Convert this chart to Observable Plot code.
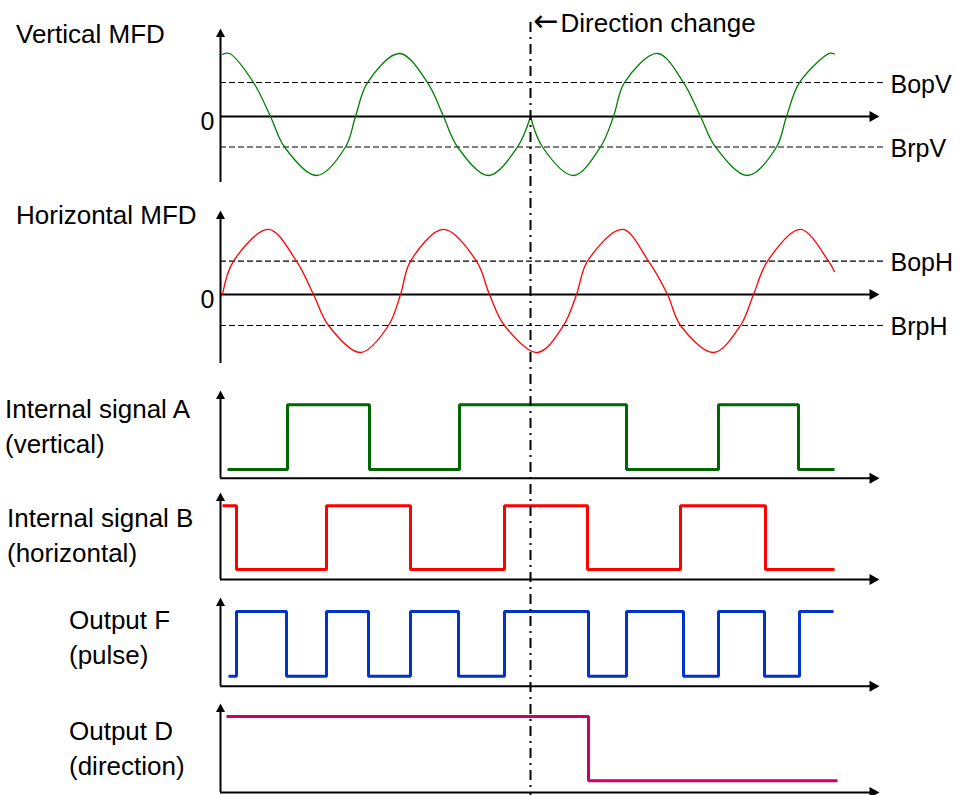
<!DOCTYPE html>
<html><head><meta charset="utf-8">
<script src="https://cdn.jsdelivr.net/npm/d3@7"></script>
<script src="https://cdn.jsdelivr.net/npm/@observablehq/plot@0.6"></script>
<style>
html,body{margin:0;padding:0;background:#fff;}
#chart{position:relative;width:960px;height:795px;overflow:hidden;font-family:"Liberation Sans",Arial,sans-serif;}
#chart svg{position:absolute;left:0;}
.lbl{position:absolute;font-size:26px;line-height:26px;white-space:nowrap;color:#000;}
</style></head><body><div id="chart"></div>
<script>
// ---------------- data (time in arbitrary units) ----------------
const timeDomain = [0, 659];
const directionChangeT = [310];
const directionArrow = "\u2190";
const directionLabel = "Direction change";
const zeroLabel = "0";

// Vertical magnetic flux density (normalised)
const vertTime  = [2, 9, 33, 50, 64, 96, 125, 135, 147, 179, 207, 223, 237, 268, 297, 310,
                   310, 322, 353, 380, 393, 404, 437, 463, 480, 495, 527, 556, 566, 579, 609, 614];
const vertField = [1.02, 1.033, 0.557, 0, -0.5, -0.967, -0.5, 0, 0.557, 1.033, 0.557, 0, -0.5, -0.967, -0.5, 0,
                   0, -0.5, -0.967, -0.5, 0, 0.557, 1.033, 0.557, 0, -0.5, -0.967, -0.5, 0, 0.557, 1.033, 1.025];
const vertPhase = ["forward","forward","forward","forward","forward","forward","forward","forward",
                   "forward","forward","forward","forward","forward","forward","forward","forward",
                   "reverse","reverse","reverse","reverse","reverse","reverse","reverse","reverse",
                   "reverse","reverse","reverse","reverse","reverse","reverse","reverse","reverse"];

// Horizontal magnetic flux density (normalised)
const horizTime  = [2, 13, 48, 76, 93, 108, 140, 168, 180, 190, 223, 256, 269, 284, 317, 343, 356,
                    367, 402, 428, 447, 460, 493, 520, 533, 547, 580, 608, 614];
const horizField = [0, 0.546, 1.066, 0.546, 0, -0.508, -0.951, -0.508, 0, 0.546, 1.066, 0.546, 0, -0.508, -0.951, -0.508, 0,
                    0.546, 1.066, 0.546, 0, -0.508, -0.951, -0.508, 0, 0.546, 1.066, 0.546, 0.377];

const thresholdNamesV  = ["BopV", "BrpV"];
const thresholdValuesV = [0.557, -0.5];
const thresholdNamesH  = ["BopH", "BrpH"];
const thresholdValuesH = [0.546, -0.508];

// Digital signals: time of each level change and the level that follows
const sigATime  = [7, 67, 149, 239, 406, 498, 578, 614];
const sigALevel = [0, 1, 0, 1, 0, 1, 0, 0];
const sigBTime  = [2, 16, 106, 190, 284, 367, 460, 545, 614];
const sigBLevel = [1, 0, 1, 0, 1, 0, 1, 0, 0];
const outFTime  = [8, 16, 66, 106, 148, 190, 238, 284, 368, 406, 463, 498, 544, 579, 613];
const outFLevel = [0, 1, 0, 1, 0, 1, 0, 1, 0, 1, 0, 1, 0, 1, 1];
const outDTime  = [6, 368, 617];
const outDLevel = [1, 0, 0];

const panelLabels = [
  ["Vertical MFD"],
  ["Horizontal MFD"],
  ["Internal signal A", "(vertical)"],
  ["Internal signal B", "(horizontal)"],
  ["Output F", "(pulse)"],
  ["Output D", "(direction)"]
];

// ---------------- layout / style ----------------
const FONT = '"Liberation Sans", Arial, sans-serif';
const W = 960, ML = 220, MR = 81;
const chart = document.getElementById("chart");

const arrowUp = {draw(c) { c.moveTo(0, 0); c.lineTo(-4.5, 8.5); c.lineTo(4.5, 8.5); c.closePath(); }};
const arrowRight = {draw(c) { c.moveTo(0, 0); c.lineTo(-10, -5.5); c.lineTo(-10, 5.5); c.closePath(); }};

// page layout of each panel (svg top, height, local positions of axis tip, axis bottom)
const layout = [
  {top: 20,  height: 170, tip: 8,  bottom: 162, domain: [-1, 1], range: [157, 35], axisLocal: 96},
  {top: 200, height: 170, tip: 10, bottom: 163, domain: [-1, 1], range: [155, 33], axisLocal: 94},
  {top: 382, height: 100, tip: 8,  bottom: 95.7, domain: [0, 1], range: [87, 22.3], axisLocal: 95.7},
  {top: 484, height: 100, tip: 8,  bottom: 95,   domain: [0, 1], range: [85, 21.3], axisLocal: 95},
  {top: 589, height: 100, tip: 8,  bottom: 96.7, domain: [0, 1], range: [86.7, 22], axisLocal: 96.7},
  {top: 695, height: 100, tip: 8,  bottom: 97,   domain: [0, 1], range: [85.3, 21], axisLocal: 97}
];
const labelPos = [
  {left: 16, base: [43]},
  {left: 16, base: [224]},
  {left: 5,  base: [418, 453]},
  {left: 7,  base: [527, 562]},
  {left: 69, base: [629, 664]},
  {left: 69, base: [740, 775]}
];

function axisValue(cfg) {
  const [d0, d1] = cfg.domain, [r0, r1] = cfg.range;
  return d0 + (cfg.axisLocal - r0) / (r1 - r0) * (d1 - d0);
}

function axesMarks(av) {
  return [
    Plot.ruleX([0], {x: d => d, stroke: "#000", strokeWidth: 2, insetTop: 6}),
    Plot.dot([0], {x: d => d, frameAnchor: "top", symbol: arrowUp, fill: "#000", stroke: "none"}),
    Plot.ruleY([av], {y: d => d, stroke: "#000", strokeWidth: 2, insetRight: 8}),
    Plot.dot([av], {y: d => d, frameAnchor: "right", symbol: arrowRight, fill: "#000", stroke: "none"})
  ];
}

function panel(cfg, marks) {
  const svg = Plot.plot({
    width: W, height: cfg.height,
    marginLeft: ML, marginRight: MR, marginTop: cfg.tip, marginBottom: cfg.height - cfg.bottom,
    x: {domain: timeDomain, axis: null},
    y: {domain: cfg.domain, range: cfg.range, axis: null},
    style: {background: "transparent", overflow: "visible", fontFamily: FONT},
    marks
  });
  svg.style.top = cfg.top + "px";
  chart.append(svg);
}

function thresholdMarks(values, names) {
  return [
    Plot.ruleY(values, {y: d => d, stroke: "#000", strokeWidth: 1.2, strokeDasharray: "6,3", insetRight: -4}),
    Plot.text(values, {y: d => d, text: (d, i) => names[i], frameAnchor: "right", textAnchor: "start",
                       lineAnchor: "middle", dx: 11, dy: 2, fontSize: 25, fontFamily: FONT, fill: "#000"})
  ];
}
function zeroMark() {
  return Plot.text([0], {y: d => d, text: () => zeroLabel, frameAnchor: "left", textAnchor: "end",
                         lineAnchor: "middle", dx: -6, dy: 5, fontSize: 25, fontFamily: FONT, fill: "#000"});
}
function digital(times, levels, color) {
  const rows = times.map((t, i) => ({t, level: levels[i]}));
  return Plot.line(rows, {x: "t", y: "level", curve: "step-after", stroke: color, strokeWidth: 3,
                          strokeLinejoin: "miter", strokeLinecap: "butt"});
}

// Panel 1: vertical MFD
{
  const cfg = layout[0];
  const rows = vertTime.map((t, i) => ({t, b: vertField[i], phase: vertPhase[i]}));
  panel(cfg, [
    ...thresholdMarks(thresholdValuesV, thresholdNamesV),
    ...axesMarks(axisValue(cfg)),
    zeroMark(),
    Plot.line(rows, {x: "t", y: "b", z: "phase", stroke: "#008000", strokeWidth: 1.3, curve: "catmull-rom"})
  ]);
}
// Panel 2: horizontal MFD
{
  const cfg = layout[1];
  const rows = horizTime.map((t, i) => ({t, b: horizField[i]}));
  panel(cfg, [
    ...thresholdMarks(thresholdValuesH, thresholdNamesH),
    ...axesMarks(axisValue(cfg)),
    zeroMark(),
    Plot.line(rows, {x: "t", y: "b", stroke: "#ff0000", strokeWidth: 1.3, curve: "catmull-rom"})
  ]);
}
// Digital panels
[[sigATime, sigALevel, "#006600"], [sigBTime, sigBLevel, "#ff0000"],
 [outFTime, outFLevel, "#0033cc"], [outDTime, outDLevel, "#cc0066"]].forEach(([t, l, c], k) => {
  const cfg = layout[k + 2];
  panel(cfg, [...axesMarks(axisValue(cfg)), digital(t, l, c)]);
});

// Overlay: direction change marker
{
  const svg = Plot.plot({
    width: W, height: 795, marginLeft: ML, marginRight: MR, marginTop: 0, marginBottom: 0,
    x: {domain: timeDomain, axis: null},
    style: {background: "transparent", overflow: "visible", fontFamily: FONT},
    marks: [
      Plot.ruleX(directionChangeT, {x: d => d, stroke: "#000", strokeWidth: 2, strokeDasharray: "10,5,2,5", insetTop: 22}),
      Plot.text(directionChangeT, {x: d => d, frameAnchor: "top", text: () => directionArrow, textAnchor: "start",
                                   lineAnchor: "middle", dx: 3, dy: 21, fontSize: 30, fontFamily: "DejaVu Sans", fill: "#000"}),
      Plot.text(directionChangeT, {x: d => d, frameAnchor: "top", text: () => directionLabel, textAnchor: "start",
                                   lineAnchor: "middle", dx: 30, dy: 23, fontSize: 26, fontFamily: FONT, fill: "#000"})
    ]
  });
  svg.style.top = "0px";
  chart.append(svg);
}

// Panel labels
panelLabels.forEach((lines, k) => {
  lines.forEach((txt, j) => {
    const div = document.createElement("div");
    div.className = "lbl";
    div.textContent = txt;
    div.style.left = labelPos[k].left + "px";
    div.style.top = (labelPos[k].base[j] - 22) + "px";
    chart.append(div);
  });
});
</script>
</body></html>
